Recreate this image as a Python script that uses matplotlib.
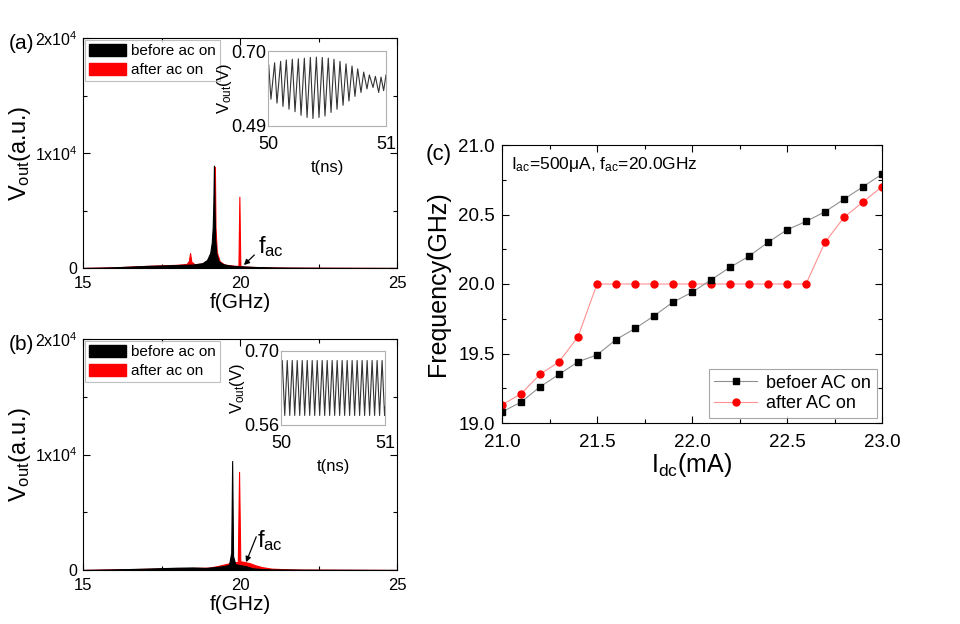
import matplotlib
matplotlib.use('Agg')
import matplotlib.pyplot as plt
import matplotlib.patches as mpatches
from matplotlib.ticker import MultipleLocator, FixedLocator

plt.rcParams['font.family'] = ['Liberation Sans', 'DejaVu Sans']
plt.rcParams['mathtext.default'] = 'regular'
plt.rcParams['mathtext.fontset'] = 'custom'
plt.rcParams['mathtext.rm'] = 'Liberation Sans'

# ---------------- data ----------------
# panel (a) spectra
a_before_f = [15, 15.5, 16, 16.5, 17, 17.5, 18, 18.5, 18.8, 18.95, 19.05, 19.10, 19.13, 19.15, 19.17,
              19.19, 19.21, 19.25, 19.32, 19.45, 19.6, 19.8, 20.0, 20.3, 20.6, 21, 21.5, 22, 23, 25]
a_before_v = [0, 20, 60, 120, 180, 220, 260, 300, 420, 700, 1300, 2200, 3500, 5500, 8900,
              5000, 2500, 1200, 600, 350, 250, 180, 150, 110, 80, 50, 30, 20, 10, 0]
a_after_f = [15, 16, 17, 17.5, 18, 18.3, 18.37, 18.41, 18.45, 18.55, 18.8, 19.0, 19.1, 19.15, 19.18,
             19.20, 19.22, 19.26, 19.35, 19.5, 19.8, 19.95, 19.98, 20.01, 20.1, 20.5, 21, 22, 25]
a_after_v = [0, 60, 180, 230, 280, 350, 600, 1300, 550, 330, 380, 600, 1200, 2500, 5000,
             8800, 3500, 1400, 600, 300, 200, 180, 6200, 160, 130, 80, 40, 20, 0]

# panel (b) spectra
b_before_f = [15, 16, 17, 18, 18.5, 18.9, 19.2, 19.5, 19.65, 19.72, 19.75, 19.78, 19.85, 20.0,
              20.2, 20.4, 20.7, 21, 22, 25]
b_before_v = [0, 50, 120, 200, 220, 180, 250, 350, 450, 1500, 9440, 1200, 500, 420,
              320, 150, 80, 50, 20, 0]
b_after_f = [15, 16, 17, 18, 18.5, 19.0, 19.3, 19.6, 19.8, 19.93, 19.97, 20.01, 20.1, 20.3,
             20.5, 20.7, 21.0, 21.5, 22, 25]
b_after_v = [0, 50, 100, 150, 180, 200, 350, 550, 650, 700, 8500, 750, 720, 600,
             400, 250, 120, 60, 30, 0]

# inset (a) waveform: alternating maxima / minima
ia_t = [50.000, 50.006, 50.025, 50.056, 50.076, 50.107, 50.127, 50.155, 50.178, 50.206, 50.229,
        50.257, 50.280, 50.308, 50.331, 50.359, 50.381, 50.410, 50.432, 50.460, 50.483,
        50.511, 50.534, 50.559, 50.585, 50.610, 50.636, 50.661, 50.686, 50.712, 50.737,
        50.760, 50.788, 50.811, 50.839, 50.859, 50.890, 50.910, 50.938, 50.958, 50.980, 51.000]
ia_v = [0.655, 0.661, 0.565, 0.667, 0.554, 0.671, 0.545, 0.675, 0.537, 0.677, 0.530,
        0.678, 0.520, 0.680, 0.514, 0.682, 0.511, 0.683, 0.514, 0.682, 0.518,
        0.680, 0.528, 0.677, 0.537, 0.671, 0.548, 0.664, 0.560, 0.658, 0.573,
        0.650, 0.584, 0.641, 0.594, 0.633, 0.598, 0.629, 0.584, 0.627, 0.589, 0.633]

# inset (b) waveform: alternating maxima / minima
ib_t = [50.000, 50.012, 50.036, 50.060, 50.084, 50.108, 50.132, 50.156, 50.180, 50.204, 50.228,
        50.252, 50.276, 50.300, 50.324, 50.348, 50.372, 50.396, 50.420, 50.444, 50.468,
        50.492, 50.516, 50.540, 50.564, 50.588, 50.612, 50.636, 50.660, 50.684, 50.708,
        50.732, 50.756, 50.780, 50.804, 50.828, 50.852, 50.876, 50.900, 50.924, 50.948,
        50.972, 50.996, 51.000]
ib_v = [0.682, 0.682, 0.578, 0.682, 0.578, 0.682, 0.578, 0.682, 0.578, 0.682, 0.578,
        0.682, 0.578, 0.682, 0.578, 0.682, 0.578, 0.682, 0.578, 0.682, 0.578,
        0.682, 0.578, 0.682, 0.578, 0.682, 0.578, 0.682, 0.578, 0.682, 0.578,
        0.682, 0.578, 0.682, 0.578, 0.682, 0.578, 0.682, 0.578, 0.682, 0.578,
        0.682, 0.578, 0.595]

# panel (c)
idc = [21.0, 21.1, 21.2, 21.3, 21.4, 21.5, 21.6, 21.7, 21.8, 21.9, 22.0,
       22.1, 22.2, 22.3, 22.4, 22.5, 22.6, 22.7, 22.8, 22.9, 23.0]
freq_before = [19.08, 19.15, 19.26, 19.35, 19.44, 19.49, 19.60, 19.68, 19.77, 19.87, 19.94,
               20.03, 20.12, 20.20, 20.30, 20.39, 20.45, 20.52, 20.61, 20.70, 20.79]
freq_after = [19.13, 19.21, 19.35, 19.44, 19.62, 20.0, 20.0, 20.0, 20.0, 20.0, 20.0,
              20.0, 20.0, 20.0, 20.0, 20.0, 20.0, 20.30, 20.48, 20.59, 20.70]

W, H = 960, 624
fig = plt.figure(figsize=(W / 100, H / 100), dpi=100)


def rect(l, t, r, b):
    return [l / W, 1 - b / H, (r - l) / W, (b - t) / H]


def style_ticks(ax, size, pad):
    ax.tick_params(which='both', direction='in', top=True, right=True, labelsize=size, pad=pad)
    ax.tick_params(which='major', length=5, width=0.8)
    ax.tick_params(which='minor', length=3, width=0.8)


def spectrum_panel(r, bf, bv, af, av, letter, fac_xy, fac_tail, fac_tip):
    ax = fig.add_axes(rect(*r))
    ax.fill_between(af, av, 0, color='#ff0000', lw=0.8, edgecolor='#ff0000', zorder=2)
    ax.fill_between(bf, bv, 0, color='black', lw=0.8, edgecolor='black', zorder=3)
    ax.set_xlim(15, 25)
    ax.set_ylim(0, 20000)
    ax.xaxis.set_major_locator(FixedLocator([15, 20, 25]))
    ax.xaxis.set_minor_locator(FixedLocator([17.5, 22.5]))
    ax.yaxis.set_major_locator(FixedLocator([0, 10000, 20000]))
    ax.yaxis.set_minor_locator(FixedLocator([5000, 15000]))
    ax.set_yticklabels(['0', r'1x10$^4$', r'2x10$^4$'])
    style_ticks(ax, 12, 6)
    ax.tick_params(axis='y', labelsize=11.5, pad=4)
    ax.set_xlabel('f(GHz)', fontsize=15, labelpad=1)
    ax.set_ylabel(r'V$_{out}$(a.u.)', fontsize=17, labelpad=1)
    ax.text(-0.235, 0.975, letter, transform=ax.transAxes, fontsize=15, va='center', ha='left')
    h1 = mpatches.Patch(color='black', label='before ac on')
    h2 = mpatches.Patch(color='#ff0000', label='after ac on')
    leg = ax.legend(handles=[h1, h2], loc='upper left', fontsize=11, frameon=True, fancybox=False,
                    edgecolor='#b0b0b0', handlelength=2.4, handleheight=0.85, borderpad=0.25,
                    labelspacing=0.3, handletextpad=0.35, borderaxespad=0.15)
    leg.get_frame().set_linewidth(0.8)
    ax.annotate('', xy=fac_tip, xytext=fac_tail,
                arrowprops=dict(arrowstyle='-|>', color='black', lw=0.9, mutation_scale=8),
                zorder=5)
    ax.text(fac_xy[0], fac_xy[1], r'f$_{ac}$', fontsize=17, ha='left', va='bottom', zorder=5)
    return ax


ax_a = spectrum_panel((83, 38, 397, 268), a_before_f, a_before_v, a_after_f, a_after_v,
                      '(a)', (20.58, 750), (20.52, 1300), (20.06, 90))
ax_b = spectrum_panel((83, 339, 397, 570), b_before_f, b_before_v, b_after_f, b_after_v,
                      '(b)', (20.55, 1500), (20.55, 3100), (20.16, 450))


def inset(r, t, v, ylo, yhi, ylab):
    ax = fig.add_axes(rect(*r))
    ax.plot(t, v, color='#333333', lw=0.8)
    ax.set_xlim(50, 51)
    ax.set_ylim(ylo, yhi)
    ax.set_xticks([50, 51])
    ax.set_yticks([ylo, yhi])
    ax.set_yticklabels([ylab[0], ylab[1]])
    ax.tick_params(length=0, labelsize=13, pad=1)
    ax.tick_params(axis='x', pad=7)
    for s in ax.spines.values():
        s.set_color('#b0b0b0')
        s.set_linewidth(0.8)
    ax.set_xlabel('t(ns)', fontsize=12, labelpad=5)
    ax.set_ylabel(r'V$_{out}$(V)', fontsize=12, labelpad=-2)
    return ax


inset((268, 51, 386, 126), ia_t, ia_v, 0.49, 0.70, ('0.49', '0.70'))
inset((281, 351, 385, 425), ib_t, ib_v, 0.56, 0.70, ('0.56', '0.70'))

# panel (c)
ax_c = fig.add_axes(rect(502, 145, 882, 423))
ax_c.plot(idc, freq_before, color='#909090', lw=0.8, marker='s', ms=4.5, mfc='black', mec='black',
          label='befoer AC on', zorder=3)
ax_c.plot(idc, freq_after, color='#ff9090', lw=0.8, marker='o', ms=5, mfc='#ff0000', mec='#ff0000',
          label='after AC on', zorder=2)
ax_c.set_xlim(21.0, 23.0)
ax_c.set_ylim(19.0, 21.0)
ax_c.xaxis.set_major_locator(MultipleLocator(0.5))
ax_c.xaxis.set_minor_locator(MultipleLocator(0.25))
ax_c.yaxis.set_major_locator(MultipleLocator(0.5))
ax_c.yaxis.set_minor_locator(MultipleLocator(0.25))
ax_c.xaxis.set_major_formatter(plt.FormatStrFormatter('%.1f'))
ax_c.yaxis.set_major_formatter(plt.FormatStrFormatter('%.1f'))
style_ticks(ax_c, 13.5, 5)
ax_c.tick_params(axis='x', pad=8)
ax_c.set_xlabel(r'I$_{dc}$(mA)', fontsize=18, labelpad=0)
ax_c.set_ylabel('Frequency(GHz)', fontsize=18, labelpad=6)
ax_c.text(-0.2, 0.965, '(c)', transform=ax_c.transAxes, fontsize=16, va='center', ha='left')
ax_c.text(0.024, 0.93, r'I$_{ac}$=500μA, f$_{ac}$=20.0GHz', transform=ax_c.transAxes,
          fontsize=12.5, va='center', ha='left')
leg = ax_c.legend(loc='lower right', fontsize=13, frameon=True, fancybox=False, edgecolor='#909090',
                  handlelength=2.4, borderpad=0.3, labelspacing=0.2, handletextpad=0.5,
                  borderaxespad=0.3)
leg.get_frame().set_linewidth(0.8)

fig.savefig('out.png', dpi=100)
